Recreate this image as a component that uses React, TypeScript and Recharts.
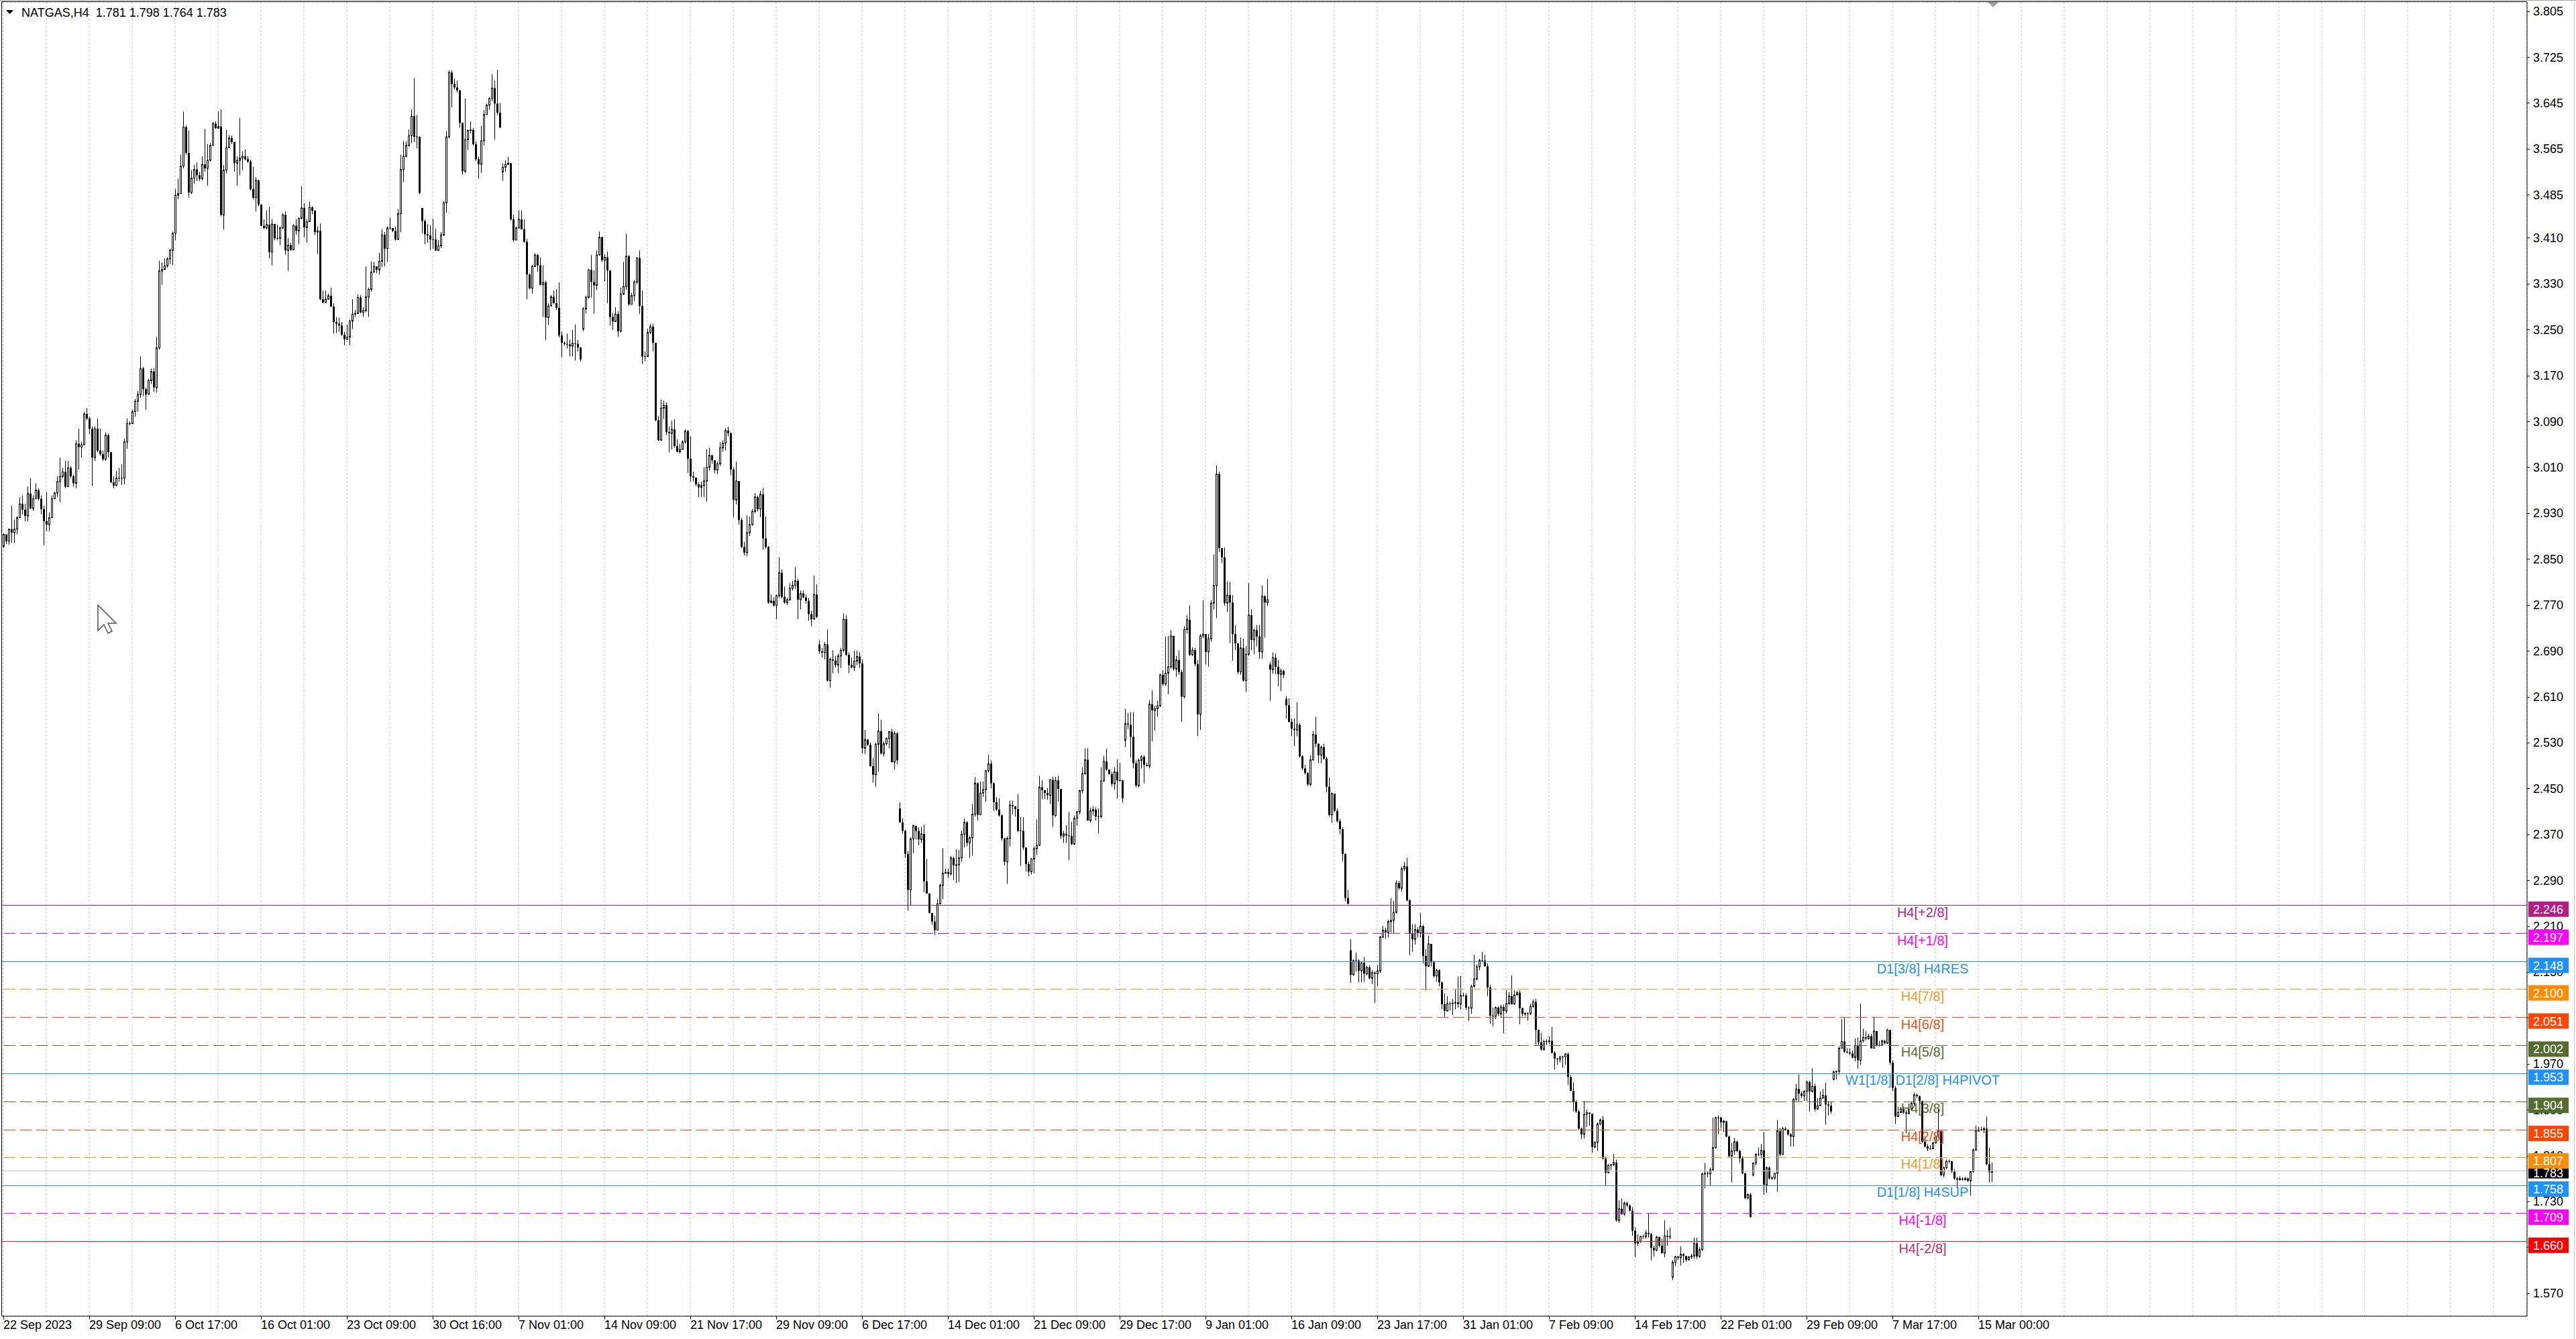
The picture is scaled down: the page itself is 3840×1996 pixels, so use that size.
import React from "react";
import { ComposedChart, Bar, XAxis, YAxis, CartesianGrid, ReferenceLine } from "recharts";

const FONT = '"Liberation Sans", Arial, sans-serif';
const CHART_W = 3840;
const CHART_H = 1996;
const AXIS_W = 73;
const AXIS_H = 34;
const BAR_PX = 4; // one H4 bar every 4px, as in the terminal
const SLOTS = Math.floor((CHART_W - AXIS_W - 3) / BAR_PX);
const BARS_PER_LABEL = 32;

const headerSymbol = "NATGAS,H4";
const headerOhlc = [1.781, 1.798, 1.764, 1.783];
const currentPrice = 1.783;

const xLabels = [
  "22 Sep 2023", "29 Sep 09:00", "6 Oct 17:00", "16 Oct 01:00", "23 Oct 09:00", "30 Oct 16:00",
  "7 Nov 01:00", "14 Nov 09:00", "21 Nov 17:00", "29 Nov 09:00", "6 Dec 17:00", "14 Dec 01:00",
  "21 Dec 09:00", "29 Dec 17:00", "9 Jan 01:00", "16 Jan 09:00", "23 Jan 17:00", "31 Jan 01:00",
  "7 Feb 09:00", "14 Feb 17:00", "22 Feb 01:00", "29 Feb 09:00", "7 Mar 17:00", "15 Mar 00:00",
];

const yTicks = [
  3.805, 3.725, 3.645, 3.565, 3.485, 3.41, 3.33, 3.25, 3.17, 3.09, 3.01, 2.93, 2.85, 2.77, 2.69,
  2.61, 2.53, 2.45, 2.37, 2.29, 2.21, 2.13, 2.05, 1.97, 1.89, 1.81, 1.73, 1.65, 1.57,
];
const yDomain = [1.53, 3.821];

// Murrey levels drawn by the indicator
const levelValues = [2.246, 2.197, 2.148, 2.1, 2.051, 2.002, 1.953, 1.904, 1.855, 1.807, 1.758, 1.709, 1.66];
const levelNames = [
  "H4[+2/8]", "H4[+1/8]", "D1[3/8] H4RES", "H4[7/8]", "H4[6/8]", "H4[5/8]",
  "W1[1/8] D1[2/8] H4PIVOT", "H4[3/8]", "H4[2/8]", "H4[1/8]", "D1[1/8] H4SUP", "H4[-1/8]", "H4[-2/8]",
];
const levelLineColors = [
  "#B81C84", "#FF00FF", "#1E90FF", "#F39A22", "#F04E14", "#556B2F",
  "#1E90FF", "#556B2F", "#F04E14", "#F39A22", "#1E90FF", "#FF00FF", "#D42020",
];
const levelTextColors = [
  "#B81C84", "#FF00FF", "#1E90FF", "#F39A22", "#F04E14", "#556B2F",
  "#1E90FF", "#556B2F", "#F04E14", "#F39A22", "#1E90FF", "#FF00FF", "#C42A6C",
];
const levelBoxColors = [
  "#B81C84", "#FF00FF", "#1E90FF", "#FF8C00", "#FF4500", "#556B2F",
  "#1E90FF", "#556B2F", "#FF4500", "#FF8C00", "#1E90FF", "#FF00FF", "#FF0000",
];
const levelDashed = [false, true, false, true, true, true, false, true, true, true, false, true, false];

// H4 candles, oldest first (open = previous close unless listed in gapOpens)
const closes = [
  2.893, 2.881, 2.902, 2.896, 2.902, 2.922, 2.946, 2.936, 2.925, 2.964,
  2.938, 2.955, 2.970, 2.955, 2.937, 2.916, 2.910, 2.922, 2.955, 2.965,
  2.985, 2.994, 3.002, 2.976, 3.009, 2.994, 2.982, 3.051, 3.045, 3.049,
  3.103, 3.095, 3.077, 3.027, 3.077, 3.039, 3.033, 3.024, 3.066, 3.036,
  2.984, 2.978, 2.991, 2.991, 2.991, 3.054, 3.086, 3.086, 3.107, 3.125,
  3.137, 3.182, 3.146, 3.137, 3.161, 3.177, 3.149, 3.218, 3.352, 3.355,
  3.361, 3.373, 3.388, 3.418, 3.484, 3.487, 3.535, 3.603, 3.558, 3.489,
  3.514, 3.529, 3.519, 3.513, 3.538, 3.531, 3.545, 3.571, 3.609, 3.601,
  3.604, 3.450, 3.528, 3.567, 3.584, 3.577, 3.540, 3.545, 3.549, 3.552,
  3.547, 3.543, 3.495, 3.480, 3.510, 3.468, 3.431, 3.427, 3.433, 3.385,
  3.434, 3.409, 3.409, 3.427, 3.450, 3.388, 3.397, 3.389, 3.431, 3.422,
  3.444, 3.462, 3.428, 3.438, 3.463, 3.457, 3.420, 3.422, 3.303, 3.297,
  3.303, 3.309, 3.290, 3.263, 3.260, 3.257, 3.241, 3.233, 3.237, 3.265,
  3.277, 3.278, 3.306, 3.280, 3.283, 3.307, 3.320, 3.350, 3.360, 3.354,
  3.369, 3.415, 3.391, 3.427, 3.427, 3.422, 3.407, 3.452, 3.529, 3.552,
  3.571, 3.588, 3.622, 3.586, 3.586, 3.488, 3.439, 3.416, 3.414, 3.407,
  3.407, 3.388, 3.396, 3.415, 3.471, 3.586, 3.698, 3.678, 3.672, 3.667,
  3.610, 3.526, 3.581, 3.597, 3.598, 3.573, 3.547, 3.538, 3.579, 3.625,
  3.641, 3.653, 3.671, 3.644, 3.628, 3.602, 3.533, 3.538, 3.540, 3.442,
  3.406, 3.427, 3.442, 3.425, 3.403, 3.346, 3.322, 3.360, 3.380, 3.362,
  3.328, 3.332, 3.271, 3.291, 3.307, 3.296, 3.288, 3.240, 3.227, 3.225,
  3.224, 3.221, 3.226, 3.225, 3.219, 3.198, 3.286, 3.306, 3.354, 3.333,
  3.327, 3.380, 3.411, 3.371, 3.376, 3.353, 3.272, 3.264, 3.277, 3.247,
  3.312, 3.325, 3.378, 3.294, 3.309, 3.333, 3.375, 3.291, 3.203, 3.203,
  3.245, 3.255, 3.227, 3.092, 3.057, 3.113, 3.118, 3.071, 3.069, 3.076,
  3.047, 3.037, 3.041, 3.054, 3.073, 3.025, 2.994, 2.992, 2.980, 2.975,
  2.978, 2.986, 3.010, 3.031, 3.022, 3.005, 3.016, 3.044, 3.052, 3.074,
  3.069, 3.006, 2.953, 2.986, 2.918, 2.871, 2.861, 2.896, 2.910, 2.933,
  2.958, 2.937, 2.963, 2.886, 2.871, 2.774, 2.777, 2.769, 2.786, 2.826,
  2.784, 2.774, 2.779, 2.799, 2.804, 2.812, 2.779, 2.790, 2.783, 2.777,
  2.754, 2.745, 2.788, 2.749, 2.689, 2.687, 2.701, 2.638, 2.675, 2.673,
  2.665, 2.681, 2.691, 2.745, 2.683, 2.665, 2.661, 2.672, 2.680, 2.668,
  2.520, 2.535, 2.526, 2.489, 2.474, 2.527, 2.550, 2.511, 2.528, 2.537,
  2.549, 2.496, 2.546, 2.499, 2.391, 2.376, 2.336, 2.273, 2.362, 2.385,
  2.376, 2.361, 2.371, 2.288, 2.267, 2.233, 2.218, 2.203, 2.249, 2.281,
  2.302, 2.304, 2.301, 2.329, 2.316, 2.317, 2.329, 2.370, 2.391, 2.355,
  2.364, 2.405, 2.459, 2.404, 2.442, 2.448, 2.481, 2.493, 2.459, 2.426,
  2.413, 2.403, 2.363, 2.322, 2.363, 2.421, 2.419, 2.414, 2.376, 2.376,
  2.347, 2.318, 2.305, 2.327, 2.345, 2.351, 2.452, 2.447, 2.442, 2.438,
  2.465, 2.403, 2.464, 2.449, 2.367, 2.371, 2.368, 2.367, 2.353, 2.398,
  2.409, 2.446, 2.476, 2.500, 2.394, 2.411, 2.413, 2.401, 2.401, 2.463,
  2.497, 2.483, 2.475, 2.458, 2.479, 2.464, 2.464, 2.433, 2.563, 2.561,
  2.540, 2.494, 2.455, 2.499, 2.505, 2.491, 2.489, 2.597, 2.586, 2.589,
  2.594, 2.648, 2.632, 2.651, 2.662, 2.716, 2.658, 2.674, 2.653, 2.610,
  2.727, 2.744, 2.683, 2.691, 2.667, 2.579, 2.716, 2.719, 2.688, 2.711,
  2.773, 2.804, 2.998, 2.869, 2.853, 2.773, 2.787, 2.774, 2.719, 2.703,
  2.653, 2.695, 2.638, 2.684, 2.752, 2.709, 2.726, 2.715, 2.688, 2.785,
  2.774, 2.779, 2.657, 2.678, 2.662, 2.649, 2.655, 2.648, 2.595, 2.566,
  2.554, 2.552, 2.561, 2.506, 2.485, 2.477, 2.457, 2.500, 2.544, 2.528,
  2.508, 2.522, 2.502, 2.453, 2.404, 2.441, 2.411, 2.393, 2.379, 2.336,
  2.259, 2.249, 2.125, 2.150, 2.150, 2.132, 2.146, 2.127, 2.138, 2.119,
  2.129, 2.127, 2.132, 2.191, 2.203, 2.199, 2.218, 2.220, 2.234, 2.285,
  2.276, 2.310, 2.314, 2.255, 2.197, 2.187, 2.204, 2.198, 2.210, 2.158,
  2.140, 2.179, 2.147, 2.123, 2.133, 2.112, 2.074, 2.062, 2.075, 2.075,
  2.076, 2.077, 2.074, 2.089, 2.089, 2.068, 2.067, 2.105, 2.118, 2.139,
  2.150, 2.150, 2.140, 2.103, 2.054, 2.053, 2.068, 2.057, 2.069, 2.062,
  2.075, 2.088, 2.074, 2.090, 2.094, 2.067, 2.057, 2.058, 2.057, 2.070,
  2.078, 2.029, 2.007, 1.995, 2.009, 2.009, 2.010, 1.989, 1.979, 1.978,
  1.982, 1.982, 1.987, 1.947, 1.923, 1.904, 1.887, 1.857, 1.847, 1.882,
  1.885, 1.883, 1.825, 1.833, 1.865, 1.872, 1.805, 1.780, 1.793, 1.794,
  1.798, 1.697, 1.717, 1.708, 1.727, 1.723, 1.714, 1.679, 1.657, 1.660,
  1.669, 1.669, 1.675, 1.673, 1.649, 1.645, 1.668, 1.653, 1.640, 1.670,
  1.668, 1.669, 1.624, 1.634, 1.632, 1.638, 1.635, 1.628, 1.633, 1.635,
  1.657, 1.634, 1.646, 1.778, 1.779, 1.778, 1.785, 1.824, 1.876, 1.876,
  1.868, 1.870, 1.843, 1.809, 1.818, 1.834, 1.818, 1.805, 1.779, 1.736,
  1.742, 1.703, 1.797, 1.812, 1.812, 1.819, 1.759, 1.789, 1.770, 1.771,
  1.779, 1.853, 1.812, 1.857, 1.855, 1.847, 1.843, 1.908, 1.926, 1.918,
  1.914, 1.922, 1.938, 1.922, 1.931, 1.891, 1.897, 1.910, 1.915, 1.899,
  1.897, 1.887, 1.956, 1.957, 1.997, 2.009, 1.991, 1.990, 1.988, 1.981,
  2.002, 1.976, 2.010, 2.016, 2.014, 2.018, 1.997, 2.027, 2.002, 2.002,
  2.010, 2.006, 2.029, 1.972, 1.928, 1.878, 1.885, 1.891, 1.885, 1.883,
  1.891, 1.901, 1.916, 1.914, 1.905, 1.834, 1.826, 1.822, 1.822, 1.832,
  1.843, 1.853, 1.776, 1.789, 1.800, 1.800, 1.782, 1.770, 1.768, 1.770,
  1.768, 1.770, 1.766, 1.782, 1.820, 1.853, 1.855, 1.855, 1.857, 1.795,
  1.781, 1.783,
];

const highs = [
  2.895, 2.890, 2.903, 2.943, 2.919, 2.925, 2.958, 2.961, 2.946, 2.976,
  2.991, 2.961, 2.982, 2.973, 2.961, 2.943, 2.967, 2.931, 2.961, 2.967,
  2.994, 3.027, 3.009, 3.021, 3.021, 3.012, 2.997, 3.057, 3.077, 3.054,
  3.107, 3.113, 3.098, 3.081, 3.081, 3.095, 3.077, 3.039, 3.071, 3.069,
  3.036, 2.994, 3.003, 3.009, 3.015, 3.060, 3.095, 3.090, 3.110, 3.129,
  3.143, 3.203, 3.185, 3.149, 3.164, 3.182, 3.183, 3.237, 3.370, 3.367,
  3.374, 3.376, 3.391, 3.421, 3.495, 3.513, 3.555, 3.630, 3.606, 3.597,
  3.528, 3.537, 3.541, 3.525, 3.552, 3.600, 3.573, 3.575, 3.612, 3.613,
  3.630, 3.634, 3.537, 3.598, 3.589, 3.588, 3.577, 3.552, 3.619, 3.561,
  3.564, 3.552, 3.546, 3.534, 3.516, 3.511, 3.459, 3.442, 3.458, 3.464,
  3.442, 3.433, 3.433, 3.430, 3.453, 3.456, 3.409, 3.401, 3.434, 3.442,
  3.446, 3.500, 3.470, 3.442, 3.473, 3.465, 3.458, 3.430, 3.435, 3.318,
  3.318, 3.313, 3.323, 3.296, 3.272, 3.271, 3.263, 3.246, 3.258, 3.267,
  3.303, 3.284, 3.311, 3.310, 3.289, 3.360, 3.323, 3.369, 3.368, 3.360,
  3.384, 3.425, 3.420, 3.430, 3.445, 3.426, 3.429, 3.460, 3.555, 3.579,
  3.578, 3.599, 3.634, 3.688, 3.624, 3.587, 3.462, 3.442, 3.434, 3.432,
  3.443, 3.426, 3.406, 3.420, 3.474, 3.596, 3.702, 3.702, 3.687, 3.684,
  3.668, 3.611, 3.653, 3.599, 3.613, 3.601, 3.578, 3.551, 3.605, 3.633,
  3.644, 3.655, 3.695, 3.684, 3.703, 3.645, 3.540, 3.545, 3.551, 3.538,
  3.450, 3.430, 3.458, 3.458, 3.442, 3.408, 3.348, 3.363, 3.383, 3.382,
  3.376, 3.362, 3.335, 3.296, 3.310, 3.318, 3.320, 3.332, 3.247, 3.229,
  3.243, 3.232, 3.249, 3.259, 3.232, 3.218, 3.289, 3.309, 3.356, 3.380,
  3.353, 3.388, 3.421, 3.412, 3.381, 3.386, 3.353, 3.279, 3.289, 3.282,
  3.323, 3.368, 3.417, 3.380, 3.314, 3.336, 3.376, 3.388, 3.318, 3.212,
  3.251, 3.260, 3.260, 3.227, 3.099, 3.128, 3.126, 3.123, 3.081, 3.091,
  3.094, 3.059, 3.051, 3.057, 3.076, 3.075, 3.064, 3.002, 2.990, 2.984,
  2.985, 3.010, 3.041, 3.044, 3.027, 3.020, 3.020, 3.054, 3.057, 3.078,
  3.081, 3.071, 3.010, 3.020, 2.937, 2.922, 2.880, 2.926, 2.924, 2.937,
  2.965, 2.960, 2.969, 2.974, 2.924, 2.873, 2.788, 2.783, 2.788, 2.853,
  2.832, 2.802, 2.782, 2.808, 2.812, 2.836, 2.815, 2.795, 2.795, 2.788,
  2.782, 2.760, 2.821, 2.806, 2.708, 2.695, 2.705, 2.727, 2.678, 2.691,
  2.681, 2.685, 2.695, 2.755, 2.752, 2.687, 2.678, 2.690, 2.690, 2.688,
  2.675, 2.552, 2.536, 2.530, 2.503, 2.530, 2.581, 2.570, 2.532, 2.539,
  2.550, 2.554, 2.550, 2.548, 2.426, 2.398, 2.378, 2.341, 2.365, 2.387,
  2.380, 2.382, 2.383, 2.387, 2.327, 2.267, 2.232, 2.228, 2.257, 2.284,
  2.346, 2.310, 2.310, 2.332, 2.331, 2.344, 2.343, 2.376, 2.398, 2.393,
  2.367, 2.423, 2.470, 2.461, 2.462, 2.462, 2.481, 2.509, 2.499, 2.461,
  2.435, 2.433, 2.405, 2.364, 2.366, 2.429, 2.429, 2.419, 2.440, 2.400,
  2.400, 2.347, 2.323, 2.329, 2.349, 2.396, 2.472, 2.464, 2.444, 2.451,
  2.466, 2.470, 2.470, 2.472, 2.407, 2.376, 2.386, 2.409, 2.392, 2.403,
  2.411, 2.448, 2.487, 2.520, 2.520, 2.417, 2.419, 2.417, 2.415, 2.487,
  2.507, 2.519, 2.483, 2.479, 2.487, 2.501, 2.495, 2.465, 2.589, 2.582,
  2.583, 2.583, 2.499, 2.502, 2.508, 2.508, 2.495, 2.604, 2.621, 2.594,
  2.603, 2.650, 2.656, 2.715, 2.716, 2.726, 2.702, 2.681, 2.691, 2.657,
  2.733, 2.752, 2.769, 2.696, 2.695, 2.674, 2.719, 2.778, 2.703, 2.719,
  2.778, 2.858, 3.013, 3.002, 2.858, 2.870, 2.811, 2.810, 2.787, 2.735,
  2.687, 2.713, 2.711, 2.698, 2.808, 2.762, 2.729, 2.735, 2.735, 2.804,
  2.787, 2.815, 2.670, 2.687, 2.685, 2.674, 2.659, 2.657, 2.611, 2.607,
  2.572, 2.572, 2.600, 2.564, 2.508, 2.491, 2.478, 2.508, 2.550, 2.575,
  2.523, 2.524, 2.528, 2.505, 2.469, 2.443, 2.429, 2.415, 2.397, 2.382,
  2.337, 2.273, 2.187, 2.152, 2.164, 2.152, 2.148, 2.156, 2.141, 2.142,
  2.133, 2.131, 2.142, 2.193, 2.210, 2.207, 2.221, 2.259, 2.254, 2.290,
  2.289, 2.314, 2.322, 2.329, 2.257, 2.213, 2.213, 2.208, 2.233, 2.212,
  2.170, 2.193, 2.155, 2.150, 2.135, 2.135, 2.113, 2.093, 2.088, 2.078,
  2.083, 2.099, 2.122, 2.123, 2.094, 2.093, 2.070, 2.108, 2.160, 2.143,
  2.153, 2.165, 2.160, 2.145, 2.108, 2.068, 2.070, 2.070, 2.073, 2.073,
  2.098, 2.095, 2.124, 2.098, 2.097, 2.098, 2.068, 2.060, 2.060, 2.075,
  2.082, 2.083, 2.030, 2.024, 2.012, 2.013, 2.018, 2.034, 1.992, 1.980,
  1.984, 1.984, 1.989, 1.990, 1.950, 1.938, 1.907, 1.890, 1.859, 1.905,
  1.890, 1.885, 1.835, 1.835, 1.868, 1.875, 1.879, 1.808, 1.795, 1.795,
  1.813, 1.803, 1.732, 1.735, 1.730, 1.730, 1.725, 1.720, 1.685, 1.673,
  1.670, 1.672, 1.680, 1.709, 1.675, 1.653, 1.670, 1.669, 1.665, 1.697,
  1.680, 1.685, 1.628, 1.635, 1.635, 1.652, 1.640, 1.635, 1.635, 1.639,
  1.667, 1.667, 1.650, 1.780, 1.797, 1.782, 1.789, 1.876, 1.878, 1.880,
  1.878, 1.872, 1.870, 1.845, 1.832, 1.841, 1.836, 1.820, 1.809, 1.780,
  1.744, 1.745, 1.797, 1.814, 1.824, 1.830, 1.851, 1.791, 1.791, 1.774,
  1.780, 1.872, 1.858, 1.860, 1.860, 1.855, 1.849, 1.910, 1.935, 1.951,
  1.922, 1.924, 1.941, 1.941, 1.962, 1.935, 1.910, 1.922, 1.926, 1.937,
  1.905, 1.903, 1.958, 1.958, 2.000, 2.048, 2.050, 1.997, 1.997, 1.993,
  2.014, 2.016, 2.075, 2.031, 2.027, 2.022, 2.022, 2.052, 2.027, 2.010,
  2.012, 2.012, 2.031, 2.029, 1.976, 1.931, 1.895, 1.895, 1.895, 1.889,
  1.893, 1.903, 1.920, 1.918, 1.914, 1.906, 1.843, 1.830, 1.828, 1.834,
  1.845, 1.891, 1.855, 1.791, 1.803, 1.803, 1.801, 1.786, 1.773, 1.774,
  1.772, 1.773, 1.772, 1.784, 1.822, 1.862, 1.860, 1.860, 1.860, 1.878,
  1.824, 1.798,
];

const lows = [
  2.869, 2.876, 2.875, 2.878, 2.878, 2.893, 2.934, 2.928, 2.916, 2.916,
  2.937, 2.934, 2.967, 2.952, 2.928, 2.874, 2.898, 2.898, 2.937, 2.955,
  2.958, 2.949, 2.991, 2.973, 2.991, 2.991, 2.976, 2.973, 3.006, 3.027,
  3.063, 3.092, 3.068, 2.977, 3.021, 3.036, 3.030, 3.021, 3.021, 3.027,
  2.982, 2.973, 2.988, 2.985, 2.979, 2.980, 3.042, 3.083, 3.103, 3.098,
  3.107, 3.131, 3.134, 3.110, 3.149, 3.155, 3.141, 3.140, 3.215, 3.328,
  3.358, 3.358, 3.364, 3.362, 3.406, 3.477, 3.492, 3.531, 3.555, 3.480,
  3.486, 3.504, 3.509, 3.509, 3.510, 3.525, 3.501, 3.543, 3.577, 3.600,
  3.600, 3.447, 3.424, 3.522, 3.579, 3.573, 3.525, 3.501, 3.519, 3.528,
  3.545, 3.540, 3.492, 3.477, 3.456, 3.465, 3.430, 3.425, 3.425, 3.374,
  3.362, 3.406, 3.406, 3.397, 3.425, 3.380, 3.352, 3.387, 3.400, 3.415,
  3.399, 3.442, 3.411, 3.401, 3.457, 3.451, 3.415, 3.382, 3.301, 3.296,
  3.301, 3.302, 3.289, 3.243, 3.244, 3.246, 3.239, 3.223, 3.232, 3.222,
  3.251, 3.272, 3.291, 3.278, 3.272, 3.280, 3.272, 3.316, 3.356, 3.348,
  3.346, 3.359, 3.360, 3.368, 3.424, 3.420, 3.405, 3.406, 3.420, 3.507,
  3.550, 3.569, 3.575, 3.577, 3.566, 3.486, 3.418, 3.399, 3.401, 3.388,
  3.391, 3.387, 3.394, 3.392, 3.413, 3.454, 3.583, 3.637, 3.669, 3.663,
  3.602, 3.520, 3.523, 3.563, 3.592, 3.571, 3.544, 3.513, 3.523, 3.571,
  3.626, 3.633, 3.648, 3.581, 3.624, 3.601, 3.510, 3.525, 3.537, 3.440,
  3.403, 3.406, 3.427, 3.424, 3.401, 3.303, 3.320, 3.313, 3.363, 3.351,
  3.327, 3.272, 3.232, 3.258, 3.296, 3.295, 3.284, 3.236, 3.202, 3.222,
  3.217, 3.203, 3.203, 3.196, 3.212, 3.194, 3.247, 3.278, 3.304, 3.306,
  3.278, 3.319, 3.390, 3.368, 3.334, 3.296, 3.257, 3.249, 3.272, 3.237,
  3.245, 3.310, 3.319, 3.291, 3.296, 3.300, 3.329, 3.277, 3.190, 3.195,
  3.208, 3.242, 3.212, 3.090, 3.056, 3.059, 3.094, 3.066, 3.036, 3.041,
  3.044, 3.036, 3.034, 3.041, 3.051, 3.000, 2.985, 2.985, 2.977, 2.958,
  2.958, 2.958, 2.950, 3.004, 3.016, 3.000, 2.998, 3.012, 3.037, 3.039,
  3.064, 2.996, 2.923, 2.945, 2.910, 2.869, 2.856, 2.855, 2.890, 2.908,
  2.930, 2.933, 2.923, 2.866, 2.868, 2.772, 2.774, 2.767, 2.745, 2.782,
  2.781, 2.772, 2.770, 2.777, 2.795, 2.798, 2.745, 2.762, 2.782, 2.772,
  2.742, 2.733, 2.745, 2.747, 2.685, 2.678, 2.675, 2.636, 2.626, 2.651,
  2.661, 2.651, 2.660, 2.688, 2.681, 2.651, 2.660, 2.655, 2.665, 2.660,
  2.511, 2.510, 2.524, 2.488, 2.460, 2.453, 2.479, 2.509, 2.506, 2.525,
  2.520, 2.495, 2.483, 2.492, 2.390, 2.371, 2.329, 2.237, 2.247, 2.337,
  2.361, 2.351, 2.355, 2.269, 2.266, 2.232, 2.212, 2.194, 2.203, 2.248,
  2.257, 2.302, 2.294, 2.299, 2.290, 2.285, 2.287, 2.322, 2.347, 2.349,
  2.329, 2.333, 2.401, 2.394, 2.429, 2.435, 2.427, 2.478, 2.450, 2.411,
  2.411, 2.401, 2.359, 2.316, 2.284, 2.349, 2.405, 2.401, 2.374, 2.315,
  2.343, 2.305, 2.297, 2.300, 2.302, 2.334, 2.350, 2.431, 2.432, 2.430,
  2.423, 2.383, 2.400, 2.427, 2.362, 2.355, 2.355, 2.325, 2.351, 2.351,
  2.385, 2.405, 2.442, 2.474, 2.394, 2.390, 2.403, 2.394, 2.372, 2.398,
  2.462, 2.481, 2.474, 2.454, 2.448, 2.432, 2.462, 2.425, 2.522, 2.553,
  2.504, 2.485, 2.452, 2.452, 2.485, 2.459, 2.488, 2.485, 2.532, 2.551,
  2.575, 2.592, 2.629, 2.629, 2.614, 2.659, 2.655, 2.645, 2.648, 2.566,
  2.607, 2.720, 2.681, 2.681, 2.663, 2.541, 2.552, 2.712, 2.666, 2.662,
  2.706, 2.762, 2.747, 2.862, 2.843, 2.769, 2.758, 2.703, 2.673, 2.691,
  2.649, 2.648, 2.636, 2.618, 2.681, 2.691, 2.684, 2.698, 2.676, 2.676,
  2.713, 2.768, 2.603, 2.650, 2.649, 2.628, 2.620, 2.642, 2.572, 2.565,
  2.541, 2.524, 2.541, 2.504, 2.482, 2.474, 2.454, 2.454, 2.498, 2.522,
  2.494, 2.494, 2.500, 2.443, 2.401, 2.390, 2.409, 2.390, 2.370, 2.323,
  2.253, 2.248, 2.111, 2.124, 2.131, 2.112, 2.112, 2.113, 2.124, 2.117,
  2.109, 2.076, 2.105, 2.128, 2.189, 2.188, 2.190, 2.199, 2.198, 2.232,
  2.273, 2.270, 2.306, 2.253, 2.159, 2.165, 2.178, 2.190, 2.190, 2.145,
  2.098, 2.139, 2.140, 2.120, 2.113, 2.105, 2.065, 2.052, 2.062, 2.063,
  2.055, 2.065, 2.068, 2.065, 2.087, 2.064, 2.045, 2.057, 2.103, 2.115,
  2.133, 2.147, 2.139, 2.088, 2.040, 2.035, 2.048, 2.053, 2.050, 2.023,
  2.058, 2.073, 2.073, 2.073, 2.090, 2.039, 2.053, 2.053, 2.045, 2.055,
  2.068, 2.003, 2.003, 1.993, 1.993, 2.003, 2.004, 1.988, 1.960, 1.968,
  1.972, 1.963, 1.968, 1.933, 1.922, 1.887, 1.884, 1.854, 1.839, 1.840,
  1.860, 1.862, 1.815, 1.823, 1.818, 1.863, 1.803, 1.758, 1.779, 1.785,
  1.792, 1.695, 1.693, 1.707, 1.705, 1.720, 1.713, 1.670, 1.633, 1.653,
  1.658, 1.665, 1.665, 1.667, 1.627, 1.634, 1.643, 1.650, 1.639, 1.633,
  1.653, 1.664, 1.593, 1.617, 1.628, 1.618, 1.623, 1.625, 1.628, 1.630,
  1.630, 1.630, 1.632, 1.644, 1.753, 1.772, 1.757, 1.784, 1.822, 1.847,
  1.857, 1.851, 1.842, 1.807, 1.763, 1.811, 1.816, 1.797, 1.778, 1.734,
  1.734, 1.702, 1.774, 1.793, 1.809, 1.805, 1.742, 1.745, 1.768, 1.768,
  1.768, 1.747, 1.809, 1.847, 1.853, 1.845, 1.826, 1.826, 1.905, 1.905,
  1.910, 1.905, 1.905, 1.887, 1.920, 1.887, 1.895, 1.896, 1.914, 1.864,
  1.880, 1.883, 1.941, 1.943, 1.951, 1.997, 1.989, 1.988, 1.985, 1.979,
  1.974, 1.962, 1.968, 2.007, 2.011, 2.012, 1.997, 1.997, 2.000, 2.000,
  2.002, 2.004, 2.005, 1.968, 1.922, 1.865, 1.883, 1.887, 1.883, 1.849,
  1.883, 1.889, 1.897, 1.910, 1.897, 1.832, 1.824, 1.818, 1.820, 1.821,
  1.831, 1.841, 1.774, 1.772, 1.786, 1.797, 1.780, 1.768, 1.753, 1.766,
  1.766, 1.766, 1.764, 1.740, 1.780, 1.818, 1.851, 1.853, 1.849, 1.793,
  1.763, 1.764,
];

// bars that opened away from the previous close (session gaps)
const gapOpens = [
  [0, 2.872], [156, 3.462], [186, 3.525], [216, 3.251], [304, 2.701], [334, 2.415],
  [418, 2.534], [472, 2.666], [478, 2.606], [502, 2.168], [622, 1.598], [652, 1.776], [682, 1.943],
];

const gapMap = new Map(gapOpens.map(([i, o]) => [i, o]));
const barCount = Math.min(closes.length, highs.length, lows.length);

const data = Array.from({ length: SLOTS }, (_, i) => {
  if (i >= barCount) return { i, range: null };
  const c = closes[i];
  const o = gapMap.has(i) ? gapMap.get(i) : i > 0 ? closes[i - 1] : c;
  const h = Math.max(highs[i], o, c);
  const l = Math.min(lows[i], o, c);
  return { i, o, h, l, c, range: [l, h] };
});

const Candle = (props: any) => {
  const { x, y, width, height, payload } = props;
  if (!payload || payload.c == null || !Number.isFinite(y) || !Number.isFinite(height)) return <g />;
  const { o, h, l, c } = payload;
  const k = h > l ? height / (h - l) : 0;
  const py = (v: number) => y + (h - v) * k;
  const cx = Math.round(x + width / 2) + 0.5;
  const top = py(Math.max(o, c));
  const bot = py(Math.min(o, c));
  let body;
  if (c > o) {
    body = (
      <rect x={cx - 1} y={top} width={2} height={Math.max(bot - top, 0.5)} fill="#fff" stroke="#000" strokeWidth={1} />
    );
  } else if (c < o) {
    body = <rect x={cx - 1.5} y={top} width={3} height={Math.max(bot - top, 1)} fill="#000" />;
  } else {
    body = <line x1={cx - 1.5} x2={cx + 1.5} y1={top} y2={top} stroke="#000" strokeWidth={1} />;
  }
  return (
    <g>
      <line x1={cx} x2={cx} y1={py(h)} y2={py(l)} stroke="#000" strokeWidth={1} />
      {body}
    </g>
  );
};

const XTick = (props: any) => {
  const { x, y, payload } = props;
  const i = payload.value;
  if (i % BARS_PER_LABEL !== 0) return <g />;
  const label = xLabels[i / BARS_PER_LABEL];
  if (!label) return <g />;
  const px = Math.round(x) + 0.5;
  return (
    <g>
      <line x1={px} x2={px} y1={y} y2={y + 5} stroke="#000" strokeWidth={1} />
      <text x={x} y={y + 19} fontSize={18} fontFamily={FONT} fill="#000" textAnchor="start">
        {label}
      </text>
    </g>
  );
};

// price scale labels, drawn as reference-line labels so the level boxes can cover them
const priceTickLabel = (value: number) => (props: any) => {
  const vb = props.viewBox;
  if (!vb) return null;
  const xr = vb.x + vb.width;
  const py = Math.round(vb.y) + 0.5;
  return (
    <g>
      <line x1={xr} x2={xr + 4} y1={py} y2={py} stroke="#000" strokeWidth={1} />
      <text x={xr + 9} y={vb.y + 6.5} fontSize={18} fontFamily={FONT} fill="#000">
        {value.toFixed(3)}
      </text>
    </g>
  );
};

const levelLabel = (idx: number) => (props: any) => {
  const vb = props.viewBox;
  if (!vb) return null;
  const y = vb.y;
  const xr = vb.x + vb.width;
  return (
    <g>
      <text x={vb.x + 2863} y={y + 17} textAnchor="middle" fontSize={20} fontFamily={FONT} fill={levelTextColors[idx]}>
        {levelNames[idx]}
      </text>
      <rect x={xr + 2} y={y - 6} width={60} height={23} fill={levelBoxColors[idx]} />
      <text x={xr + 9} y={y + 12} fontSize={18} fontFamily={FONT} fill="#fff">
        {levelValues[idx].toFixed(3)}
      </text>
    </g>
  );
};

const priceLabel = (props: any) => {
  const vb = props.viewBox;
  if (!vb) return null;
  const xr = vb.x + vb.width;
  return (
    <g>
      <rect x={xr + 2} y={vb.y - 6} width={60} height={17} fill="#000" />
      <text x={xr + 9} y={vb.y + 9} fontSize={18} fontFamily={FONT} fill="#fff">
        {currentPrice.toFixed(3)}
      </text>
    </g>
  );
};

export default function App() {
  return (
    <div style={{ position: "relative", width: CHART_W, height: CHART_H, background: "#fff" }}>
      <style>{"body{margin:0;background:#fff}"}</style>
      <ComposedChart
        width={CHART_W}
        height={CHART_H}
        data={data}
        margin={{ top: 3, right: 0, bottom: 0, left: 3 }}
        barCategoryGap={0}
      >
        <CartesianGrid stroke="#C0C0C0" strokeDasharray="3 3" />
        <XAxis
          dataKey="i"
          type="category"
          interval={15}
          tick={<XTick />}
          tickLine={false}
          tickSize={0}
          tickMargin={0}
          axisLine={{ stroke: "#000" }}
          height={AXIS_H}
        />
        <YAxis
          orientation="right"
          type="number"
          domain={yDomain}
          allowDataOverflow
          ticks={yTicks}
          interval={0}
          width={AXIS_W}
          tick={false}
          tickLine={false}
          axisLine={{ stroke: "#000" }}
        />
        {yTicks.map((t) => (
          <ReferenceLine key={`tick-${t}`} y={t} stroke="none" label={priceTickLabel(t)} />
        ))}
        <ReferenceLine
          y={currentPrice}
          stroke="#C0C0C0"
          strokeWidth={1}
          shapeRendering="crispEdges"
          label={priceLabel}
        />
        {levelValues.map((v, idx) => (
          <ReferenceLine
            key={`lvl-${idx}`}
            y={v}
            stroke={levelLineColors[idx]}
            strokeWidth={1}
            shapeRendering="crispEdges"
            strokeDasharray={levelDashed[idx] ? "17 7" : undefined}
            label={levelLabel(idx)}
          />
        ))}
        <Bar dataKey="range" shape={<Candle />} isAnimationActive={false} />
      </ComposedChart>
      <svg
        width={CHART_W}
        height={CHART_H}
        style={{ position: "absolute", left: 0, top: 0, pointerEvents: "none" }}
      >
        <line x1={0} x2={CHART_W} y1={0.5} y2={0.5} stroke="#A0A0A0" strokeWidth={1} />
        <line x1={2} x2={CHART_W - AXIS_W} y1={2.5} y2={2.5} stroke="#000" strokeWidth={1} />
        <line x1={2.5} x2={2.5} y1={2} y2={CHART_H - AXIS_H} stroke="#000" strokeWidth={1} />
        <line x1={3837.5} x2={3837.5} y1={0} y2={CHART_H} stroke="#C8C8C8" strokeWidth={1} />
        <polygon points="2963,3 2979,3 2971,11" fill="#A0A0A0" />
        <polygon points="9,15 20,15 14.5,21" fill="#000" />
        <text x={32} y={25} fontSize={18} fontFamily={FONT} fill="#000">
          {headerSymbol}
          {"\u00a0\u00a0"}
          {headerOhlc.map((v) => v.toFixed(3)).join(" ")}
        </text>
        <polygon
          points="146,902 146,940 155,931 161,944 167,941 161,929 173,929"
          fill="#fff"
          stroke="#505050"
          strokeWidth={1.5}
        />
      </svg>
    </div>
  );
}
